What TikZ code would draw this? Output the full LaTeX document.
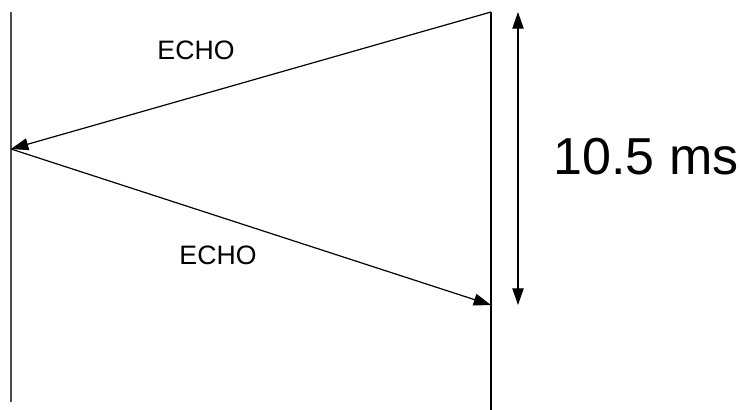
\documentclass[tikz,border=0pt]{standalone}
\usepackage{fontspec}
\setmainfont{Liberation Sans}
\usetikzlibrary{arrows.meta}
\tikzset{
  pared/.style={line width=1.1pt, draw=black!70},
  paredd/.style={line width=0.9pt, draw=black},
  eco/.style={-{Triangle[length=13pt,width=9pt]}, line width=0.9pt},
  medida/.style={{Triangle[length=12.5pt,width=8.5pt]}-{Triangle[length=12.5pt,width=8.5pt]}, line width=0.9pt},
  etiqueta/.style={font=\fontsize{20}{23}\selectfont, inner sep=0pt}
}
\begin{document}
\begin{tikzpicture}[x=0.75pt, y=-0.75pt]
  \useasboundingbox (0,0) rectangle (740,410);
  % paredes
  \coordinate (izqA) at (11,12);
  \coordinate (izqB) at (11,402);
  \coordinate (derA) at (491,12);
  \coordinate (derB) at (491,410);
  \coordinate (rebote) at (11,149);
  \coordinate (llegada) at (491,305);
  \coordinate (medA) at (518,12);
  \coordinate (medB) at (518,305);
  \draw[pared] (izqA) -- (izqB);
  \draw[paredd] (derA) -- (derB);
  % ecos
  \draw[eco] (derA) -- (rebote);
  \draw[eco] (rebote) -- (llegada);
  \draw[medida] (medA) -- (medB);
  \node[etiqueta] (eco1) at (196,50) {ECHO};
  \node[etiqueta] (eco2) at (218,255) {ECHO};
  \node[font=\fontsize{39}{45}\selectfont, inner sep=0pt] (tiempo) at (646,157) {10.5 ms};
\end{tikzpicture}
\end{document}
